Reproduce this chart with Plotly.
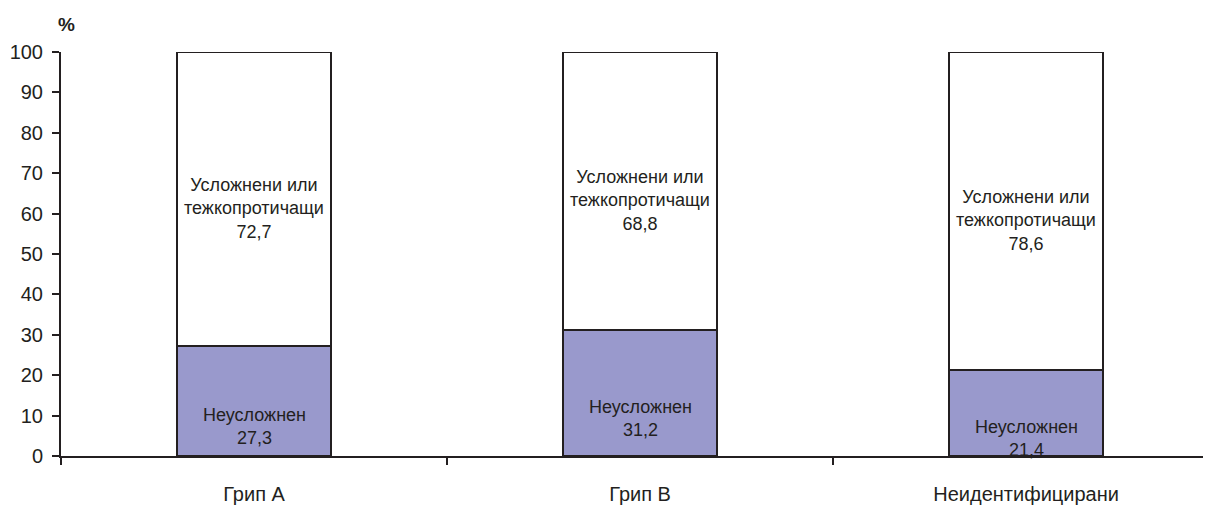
import plotly.graph_objects as go

categories = ["Грип А", "Грип В", "Неидентифицирани"]
uncomplicated = [27.3, 31.2, 21.4]
complicated = [72.7, 68.8, 78.6]
label_uncomplicated = "Неусложнен"
label_complicated = "Усложнени или<br>тежкопротичащи"
y_ticks = list(range(0, 101, 10))

FONT = "Liberation Sans, Arial, sans-serif"
EDGE = "#231F20"
TEXT = "#231F20"
PURPLE = "#9999CC"

xpos = list(range(len(categories)))

fig = go.Figure()
fig.add_trace(go.Bar(x=xpos, y=uncomplicated, width=0.4,
                     marker=dict(color=PURPLE, line=dict(color=EDGE, width=2)),
                     hoverinfo="skip"))
fig.add_trace(go.Bar(x=xpos, y=complicated, width=0.4,
                     marker=dict(color="white", line=dict(color=EDGE, width=2)),
                     hoverinfo="skip"))

def fmt(v):
    return f"{v:.1f}".replace(".", ",")

annotations = []
for i, (u, c) in enumerate(zip(uncomplicated, complicated)):
    annotations.append(dict(x=i, y=u / 2, text=f"{label_uncomplicated}<br>{fmt(u)}",
                            showarrow=False, yshift=-26,
                            font=dict(family=FONT, size=18, color=TEXT)))
    annotations.append(dict(x=i, y=u + c / 2, text=f"{label_complicated}<br>{fmt(c)}",
                            showarrow=False, yshift=-10,
                            font=dict(family=FONT, size=18, color=TEXT)))
annotations.append(dict(xref="paper", yref="paper", x=0.0, xshift=5, xanchor="center",
                        y=1.0, yshift=28, yanchor="middle",
                        text="<b>%</b>", showarrow=False,
                        font=dict(family=FONT, size=19, color=TEXT)))

# page body has an 8px margin; figure sized to fill the remaining window
fig.update_layout(
    barmode="stack",
    showlegend=False,
    width=1203, height=520,
    margin=dict(l=53, r=0, t=44, b=72),
    paper_bgcolor="white", plot_bgcolor="white",
    font=dict(family=FONT, size=20, color=TEXT),
    annotations=annotations,
    bargap=0,
)
fig.update_xaxes(
    range=[-0.5, 2.479],
    tickmode="array", tickvals=xpos, ticktext=categories,
    ticks="", showgrid=False, zeroline=False,
    showline=True, linecolor=EDGE, linewidth=2,
    ticklabelstandoff=19,
    tickfont=dict(family=FONT, size=20, color=TEXT),
    minor=dict(tickmode="array", tickvals=[-0.5, 0.5, 1.5], ticks="outside",
               ticklen=7, tickwidth=2, tickcolor=EDGE, showgrid=False),
)
fig.update_yaxes(
    range=[0, 100], tickmode="array", tickvals=y_ticks,
    ticks="outside", ticklen=7, tickwidth=2, tickcolor=EDGE,
    ticklabelstandoff=5,
    showgrid=False, zeroline=False,
    showline=True, linecolor=EDGE, linewidth=2,
    tickfont=dict(family=FONT, size=20, color=TEXT),
)

fig.write_html("out.html")
